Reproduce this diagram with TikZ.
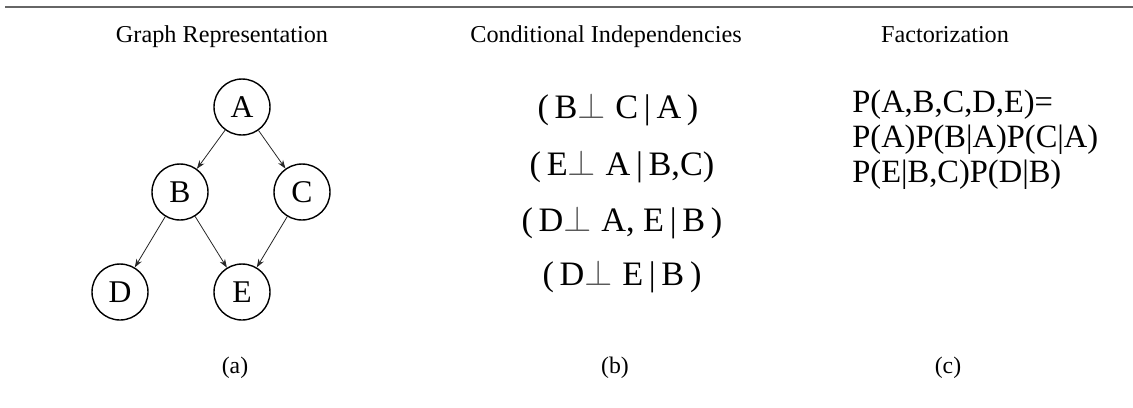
\documentclass[tikz,border=0pt]{standalone}
\usepackage{fontspec}
\setmainfont{Liberation Serif}
\usetikzlibrary{arrows.meta, positioning}

\newcommand{\indep}{\textcolor{black!65}{$\perp$}}

\begin{document}
\begin{tikzpicture}[
  x=0.02cm, y=-0.02cm,
  every node/.style={font=\fontsize{13}{15}\selectfont},
  ttl/.style={anchor=base, font=\fontsize{13.8}{16}\selectfont},
  var/.style={
    circle, draw=black, line width=0.8pt,
    minimum size=1.12cm, inner sep=0pt,
    font=\fontsize{18}{20}\selectfont},
  ci/.style={font=\fontsize{19.5}{22}\selectfont},
  fac/.style={anchor=base west, inner sep=0pt, font=\fontsize{18.5}{20}\selectfont},
  sub/.style={font=\fontsize{13.5}{15}\selectfont},
  arr/.style={-{Stealth[length=1.7mm,width=1.2mm]}, draw=black!85, line width=0.45pt},
]
\useasboundingbox (0,0) rectangle (1133,407);

% rule on top
\coordinate (ruleL) at (5,7);
\coordinate (ruleR) at (1133,7);
\draw[black!60, line width=1.2pt] (ruleL) -- (ruleR);

% column titles
\node[ttl] (tgraph) at (222, 42) {Graph Representation};
\node[ttl] (tci)    at (606, 42) {Conditional Independencies};
\node[ttl] (tfac)   at (945, 42) {Factorization};

% (a) the graph
\node[var] (A) at (242, 107) {A};
\node[var] (B) at (180, 192) {B};
\node[var] (C) at (302, 192) {C};
\node[var] (D) at (120, 292) {D};
\node[var] (E) at (242, 292) {E};

\draw[arr] (A) -- (B);
\draw[arr] (A) -- (C);
\draw[arr] (B) -- (D);
\draw[arr] (B) -- (E);
\draw[arr] (C) -- (E);

% (b) independencies
\node[ci] (ci1) at (618, 110) {(\,B\indep\;C\,|\,A\,)};
\node[ci] (ci2) at (622, 167) {(\,E\indep\;A\,|\,B,C)};
\node[ci] (ci3) at (622, 223) {(\,D\indep\;A, E\,|\,B\,)};
\node[ci] (ci4) at (622, 277) {(\,D\indep\;E\,|\,B\,)};

% (c) factorization
\node[fac] (fac1) at (852, 112) {P(A,B,C,D,E)=};
\node[fac] (fac2) at (852, 147) {P(A)P(B|A)P(C|A)};
\node[fac] (fac3) at (852, 182) {P(E|B,C)P(D|B)};

% sub captions
\node[sub] (suba) at (235, 368) {(a)};
\node[sub] (subb) at (615, 368) {(b)};
\node[sub] (subc) at (948, 368) {(c)};

\end{tikzpicture}
\end{document}
